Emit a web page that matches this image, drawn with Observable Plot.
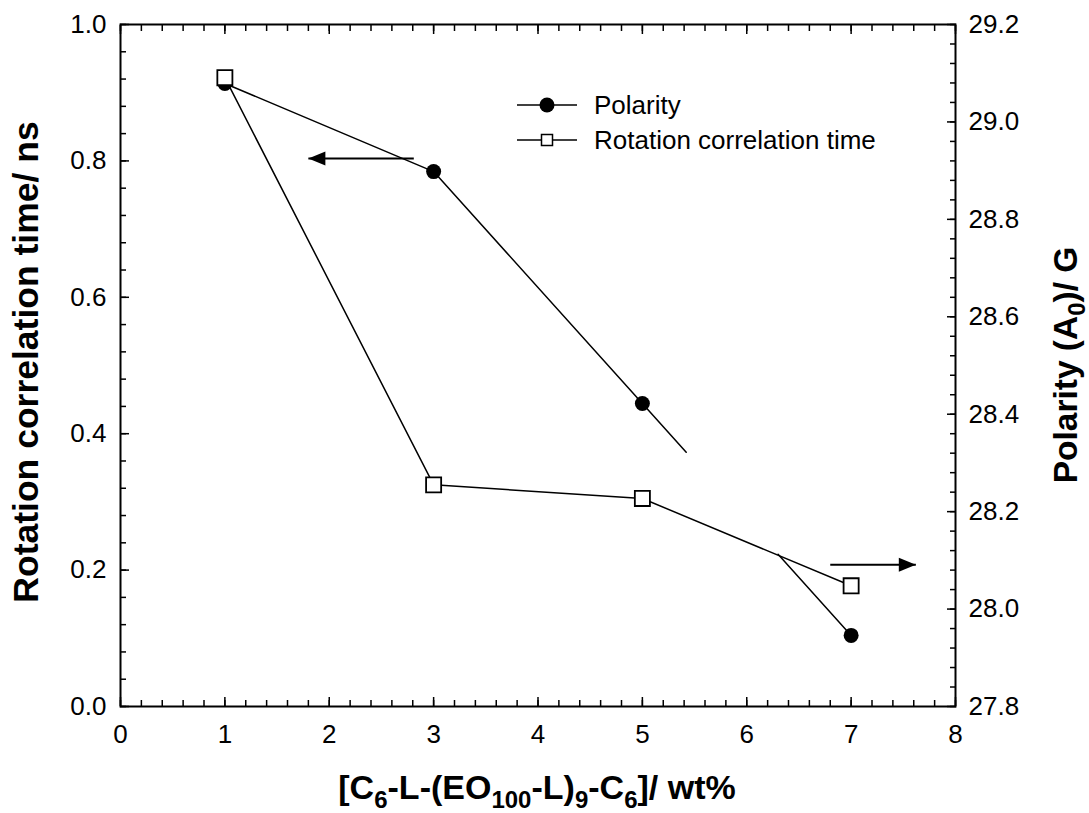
<!DOCTYPE html>
<html><head><meta charset="utf-8">
<script src="https://cdn.jsdelivr.net/npm/d3@7"></script>
<script src="https://cdn.jsdelivr.net/npm/@observablehq/plot@0.6"></script>
<style>html,body{margin:0;padding:0;background:#fff} svg{display:block}</style>
</head><body><div id="chart"></div>
<script>
// ---- data ----
const conc = [1, 3, 5, 7];                              // wt%
const rotationTime = [0.922, 0.325, 0.305, 0.177];      // ns (left axis)
const polarity = [29.079, 28.898, 28.422, 27.946];      // G (right axis)
const polarityGap = [5.42, 6.30];                       // x-range where the polarity line is interrupted
const xTicks = [0, 1, 2, 3, 4, 5, 6, 7, 8];
const leftTicks = [0, 0.2, 0.4, 0.6, 0.8, 1.0];
const rightTicks = [27.8, 28.0, 28.2, 28.4, 28.6, 28.8, 29.0, 29.2];
const rightDomain = [27.8, 29.2];
const arrowFrom = [2.81, 6.80];
const arrowTo = [1.80, 7.62];
const arrowLevel = [0.8035, 0.208];
const arrowDir = ["left", "right"];
const seriesNames = ["Polarity", "Rotation correlation time"];

// ---- helpers ----
const toLeft = p => (p - rightDomain[0]) / (rightDomain[1] - rightDomain[0]);
const xMinor = d3.range(0, 40 + 1).map(i => i * 0.2);
const leftMinor = d3.range(0, 25 + 1).map(i => i * 0.04);
const rightMinor = d3.range(0, 35 + 1).map(i => toLeft(rightDomain[0] + i * 0.04));
const rightMajor = rightTicks.map(toLeft);

const rotData = conc.map((x, i) => ({x, y: rotationTime[i]}));
const polData = conc.map((x, i) => ({x, y: toLeft(polarity[i])}));
function interp(x) {
  for (let i = 0; i < conc.length - 1; i++) {
    if (x >= conc[i] && x <= conc[i + 1]) {
      const t = (x - conc[i]) / (conc[i + 1] - conc[i]);
      return polData[i].y + t * (polData[i + 1].y - polData[i].y);
    }
  }
}
const polSegs = [
  ...polData.filter(p => p.x <= polarityGap[0]).map(p => ({...p, seg: 0})),
  {x: polarityGap[0], y: interp(polarityGap[0]), seg: 0},
  {x: polarityGap[1], y: interp(polarityGap[1]), seg: 1},
  ...polData.filter(p => p.x >= polarityGap[1]).map(p => ({...p, seg: 1}))
];
const arrows = arrowFrom.map((x1, i) => ({x1, x2: arrowTo[i], y: arrowLevel[i], dir: arrowDir[i]}));

const headLeft = {draw(ctx) { ctx.moveTo(0, 0); ctx.lineTo(17, -7); ctx.lineTo(17, 7); ctx.closePath(); }};
const headRight = {draw(ctx) { ctx.moveTo(0, 0); ctx.lineTo(-17, -7); ctx.lineTo(-17, 7); ctx.closePath(); }};

const FONT = "'Liberation Sans', Arial, Helvetica, sans-serif";
const TS = 26;

const plot = Plot.plot({
  width: 1089, height: 813,
  marginLeft: 120, marginRight: 134, marginTop: 24, marginBottom: 107,
  x: {domain: [0, 8]},
  y: {domain: [0, 1]},
  style: {fontFamily: FONT, fontSize: TS + "px", color: "black", background: "white", overflow: "visible"},
  marks: [
    // minor ticks (inward)
    Plot.axisX(xMinor, {anchor: "bottom", tickSize: -6, tickFormat: () => "", label: null, strokeWidth: 1.5}),
    Plot.axisX(xMinor, {anchor: "top", tickSize: -6, tickFormat: () => "", label: null, strokeWidth: 1.5}),
    Plot.axisY(leftMinor, {anchor: "left", tickSize: -6, tickFormat: () => "", label: null, strokeWidth: 1.5}),
    Plot.axisY(rightMinor, {anchor: "right", tickSize: -6, tickFormat: () => "", label: null, strokeWidth: 1.5}),
    // major ticks (inward)
    Plot.axisX(xTicks, {anchor: "bottom", tickSize: -9, tickFormat: () => "", label: null, strokeWidth: 1.5}),
    Plot.axisX(xTicks, {anchor: "top", tickSize: -9, tickFormat: () => "", label: null, strokeWidth: 1.5}),
    Plot.axisY(leftTicks, {anchor: "left", tickSize: -9, tickFormat: () => "", label: null, strokeWidth: 1.5}),
    Plot.axisY(rightMajor, {anchor: "right", tickSize: -9, tickFormat: () => "", label: null, strokeWidth: 1.5}),
    // labels
    Plot.axisX(xTicks, {anchor: "bottom", tickSize: 0, tickPadding: 18, tickFormat: d => String(d), label: null, fontSize: TS}),
    Plot.axisY(leftTicks, {anchor: "left", tickSize: 0, tickPadding: 14, tickFormat: d3.format(".1f"), label: null, fontSize: TS}),
    Plot.axisY(rightMajor, {anchor: "right", tickSize: 0, tickPadding: 13,
      tickFormat: (d, i) => rightTicks[i].toFixed(1), label: null, fontSize: TS}),
    Plot.frame({stroke: "black", strokeWidth: 2}),
    // series lines
    Plot.line(polSegs, {x: "x", y: "y", z: "seg", stroke: "black", strokeWidth: 1.5}),
    Plot.line(rotData, {x: "x", y: "y", stroke: "black", strokeWidth: 1.5}),
    // markers
    Plot.dot(polData, {x: "x", y: "y", r: 7.5, fill: "black", stroke: "none"}),
    Plot.dot(rotData, {x: "x", y: "y", r: 8.5, symbol: "square", fill: "white", stroke: "black", strokeWidth: 1.8}),
    // annotation arrows
    Plot.link(arrows, {x1: "x1", x2: "x2", y1: "y", y2: "y", stroke: "black", strokeWidth: 2}),
    Plot.dot(arrows.filter(a => a.dir === "left"), {x: "x2", y: "y", symbol: headLeft, r: 5, fill: "black", stroke: "none"}),
    Plot.dot(arrows.filter(a => a.dir === "right"), {x: "x2", y: "y", symbol: headRight, r: 5, fill: "black", stroke: "none"})
  ]
});

const svg = d3.select(plot);
svg.attr("font-family", FONT);

// legend
const lg = svg.append("g").attr("font-family", FONT).attr("font-size", TS).attr("text-anchor", "start");
[105, 140].forEach((yy, i) => {
  lg.append("line").attr("x1", 517).attr("x2", 577).attr("y1", yy).attr("y2", yy)
    .attr("stroke", "black").attr("stroke-width", 1.5);
  if (i === 0) lg.append("circle").attr("cx", 547).attr("cy", yy).attr("r", 7.5).attr("fill", "black");
  else lg.append("rect").attr("x", 541.5).attr("y", yy - 5.5).attr("width", 11).attr("height", 11)
    .attr("fill", "white").attr("stroke", "black").attr("stroke-width", 1.5);
  lg.append("text").attr("x", 594).attr("y", yy + 9).attr("text-anchor", "start").text(seriesNames[i]);
});

// axis titles
svg.append("text").attr("transform", "translate(38,362) rotate(-90)")
  .attr("text-anchor", "middle").attr("font-weight", "bold").attr("font-size", 35.5)
  .text("Rotation correlation time/ ns");

const rt = svg.append("text").attr("transform", "translate(1077,365) rotate(-90)")
  .attr("text-anchor", "middle").attr("font-weight", "bold").attr("font-size", 33.5);
rt.append("tspan").text("Polarity (A");
rt.append("tspan").attr("dy", 8).attr("font-size", 24).text("0");
rt.append("tspan").attr("dy", -8).text(")/ G");

const xt = svg.append("text").attr("x", 537).attr("y", 799)
  .attr("text-anchor", "middle").attr("font-weight", "bold").attr("font-size", 34);
const parts = [["[C", 0], ["6", 1], ["-L-(EO", 0], ["100", 1], ["-L)", 0], ["9", 1], ["-C", 0], ["6", 1], ["]/ wt%", 0]];
let prev = 0;
parts.forEach(([t, sub]) => {
  const ts = xt.append("tspan").text(t);
  const target = sub ? 9 : 0;
  if (target !== prev) ts.attr("dy", target - prev);
  if (sub) ts.attr("font-size", 24);
  prev = target;
});

document.getElementById("chart").appendChild(plot);
</script>
</body></html>
